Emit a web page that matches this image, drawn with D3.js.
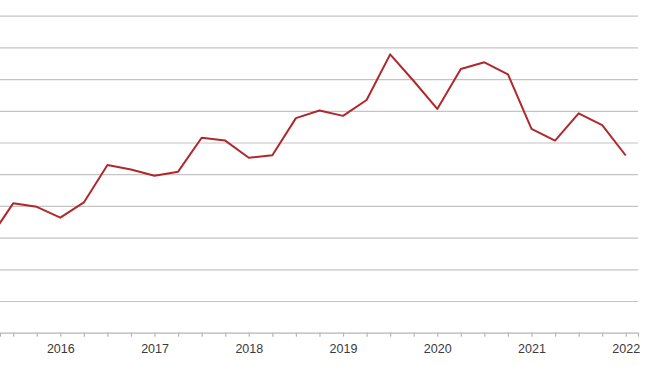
<!DOCTYPE html>
<html>
<head>
<meta charset="utf-8">
<script src="https://cdn.jsdelivr.net/npm/d3@7"></script>
<style>
  body { margin: 0; background: #fff; }
  .grid line { stroke: #c4c4c4; stroke-width: 1.2; }
  .grid path { display: none; }
  .x-axis path, .x-axis line { stroke: #b5b5b5; stroke-width: 1.2; }
  .x-axis text { fill: #3a3a3a; font-family: "Liberation Sans", Arial, sans-serif; font-size: 12.5px; }
</style>
</head>
<body>
<div id="chart"></div>
<script>
// quarterly points, as decimal years
const quarters = [
  2015.25, 2015.5, 2015.75,
  2016.0, 2016.25, 2016.5, 2016.75,
  2017.0, 2017.25, 2017.5, 2017.75,
  2018.0, 2018.25, 2018.5, 2018.75,
  2019.0, 2019.25, 2019.5, 2019.75,
  2020.0, 2020.25, 2020.5, 2020.75,
  2021.0, 2021.25, 2021.5, 2021.75,
  2022.0
];
const values = [
  2.98, 4.08, 3.97,
  3.63, 4.11, 5.29, 5.15,
  4.95, 5.08, 6.15, 6.06,
  5.52, 5.6, 6.77, 7.01,
  6.84, 7.34, 8.78, 7.94,
  7.06, 8.32, 8.53, 8.15,
  6.43, 6.06, 6.92, 6.55,
  5.59
];
const yearTicks = [2016, 2017, 2018, 2019, 2020, 2021, 2022];
const gridTicks = [0, 1, 2, 3, 4, 5, 6, 7, 8, 9, 10];

const width = 650;
const height = 366;

const data = quarters.map((q, i) => ({ q, v: values[i] }));

const svg = d3.select('#chart')
  .append('svg')
  .attr('width', width)
  .attr('height', height);

// the plot is cropped on the left, so the domain starts mid 2015
const xScale = d3.scaleLinear()
  .domain([2015.36, 2022.13])
  .range([0, 638]);

const yScale = d3.scaleLinear()
  .domain([0, 10])
  .range([332.7, 15.7]);

// horizontal gridlines
svg.append('g')
  .attr('class', 'grid')
  .call(d3.axisLeft(yScale)
    .tickValues(gridTicks.slice(1))
    .tickFormat('')
    .tickSize(-638));

// x axis: a tick every quarter, labels on the years
const tickQuarters = quarters.filter(q => q >= xScale.domain()[0]);
svg.append('g')
  .attr('class', 'x-axis')
  .attr('transform', `translate(0, ${yScale(0)})`)
  .call(d3.axisBottom(xScale)
    .tickValues(tickQuarters)
    .tickSizeInner(4)
    .tickSizeOuter(4)
    .tickPadding(7)
    .tickFormat(d => yearTicks.includes(d) ? String(d) : ''));

const line = d3.line()
  .x(d => xScale(d.q))
  .y(d => yScale(d.v));

svg.append('path')
  .datum(data)
  .attr('fill', 'none')
  .attr('stroke', '#b0282c')
  .attr('stroke-width', 2)
  .attr('stroke-linejoin', 'round')
  .attr('d', line);
</script>
</body>
</html>
